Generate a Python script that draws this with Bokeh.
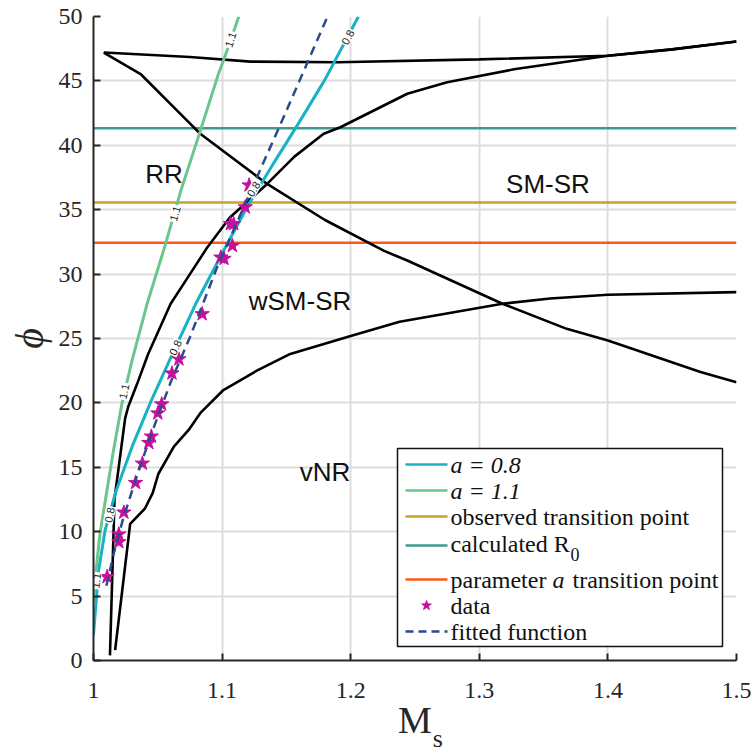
from bokeh.plotting import figure
from bokeh.models import Range1d, FixedTicker, LinearAxis, CustomJSTickFormatter
from bokeh.core.properties import value
from bokeh.embed import file_html
from bokeh.resources import INLINE

# ---------------- data ----------------
x_ticks = [1.0, 1.1, 1.2, 1.3, 1.4, 1.5]
x_tick_labels = ["1", "1.1", "1.2", "1.3", "1.4", "1.5"]
y_ticks = [0, 5, 10, 15, 20, 25, 30, 35, 40, 45, 50]
y_tick_labels = ["0", "5", "10", "15", "20", "25", "30", "35", "40", "45", "50"]

# black regime boundaries
top_ms = [1.008, 1.075, 1.122, 1.19, 1.30, 1.40, 1.45, 1.50]
top_phi = [47.2, 46.85, 46.5, 46.45, 46.67, 46.95, 47.45, 48.06]

desc_ms = [1.008, 1.037, 1.073, 1.083, 1.135, 1.18, 1.226, 1.244, 1.318, 1.368, 1.40, 1.472, 1.50]
desc_phi = [47.2, 45.5, 41.9, 40.9, 37.0, 34.2, 31.8, 31.06, 27.7, 25.75, 24.85, 22.4, 21.6]

rise_ms = [1.0128, 1.0156, 1.0163, 1.0246, 1.027, 1.034, 1.0425, 1.06, 1.075, 1.088, 1.106, 1.135,
           1.156, 1.179, 1.192, 1.244, 1.275, 1.327, 1.40, 1.45, 1.50]
rise_phi = [0.4, 10.0, 12.5, 18.8, 19.7, 21.5, 23.8, 27.7, 30.0, 32.0, 34.4, 37.0,
            39.1, 40.9, 41.4, 44.0, 44.9, 45.9, 46.95, 47.45, 48.06]

low_ms = [1.0168, 1.0285, 1.040, 1.046, 1.0505, 1.0625, 1.074, 1.083, 1.101, 1.127, 1.153,
          1.20, 1.238, 1.318, 1.355, 1.40, 1.50]
low_phi = [0.8, 10.6, 11.8, 13.0, 14.5, 16.6, 17.9, 19.2, 21.0, 22.5, 23.8,
           25.2, 26.3, 27.7, 28.1, 28.4, 28.6]

# a = 0.8 contour
a08_ms = [1.000, 1.004, 1.009, 1.017, 1.030, 1.045, 1.060, 1.080, 1.100, 1.120, 1.140, 1.160, 1.180, 1.206]
a08_phi = [2.0, 7.0, 10.1, 13.0, 16.6, 20.2, 23.5, 27.8, 31.6, 35.3, 38.6, 41.8, 45.1, 50.0]

# a = 1.1 contour
a11_ms = [1.000, 1.002, 1.005, 1.009, 1.015, 1.022, 1.030, 1.042, 1.055, 1.068, 1.083, 1.097, 1.104, 1.113]
a11_phi = [4.6, 7.0, 9.8, 12.3, 16.0, 19.9, 23.3, 27.8, 32.0, 36.5, 41.1, 45.5, 47.4, 50.0]

# horizontal reference levels
observed_phi = 35.55
r0_phi = 41.33
param_a_phi = 32.43

# measured data
data_ms = [1.0106, 1.0197, 1.0197, 1.0236, 1.0327, 1.038, 1.043, 1.045, 1.050, 1.053,
           1.061, 1.0664, 1.0845, 1.099, 1.1015, 1.108, 1.1065, 1.109, 1.118, 1.121]
data_phi = [6.5, 9.2, 9.8, 11.5, 13.8, 15.3, 16.9, 17.4, 19.2, 19.9,
            22.3, 23.4, 26.9, 31.3, 31.2, 32.2, 33.9, 33.9, 35.2, 36.9]

# fitted function
fit_ms = [1.010, 1.016, 1.023, 1.033, 1.045, 1.060, 1.075, 1.096, 1.127, 1.147, 1.182]
fit_phi = [5.8, 8.4, 11.0, 14.1, 17.6, 21.6, 25.1, 30.5, 37.5, 42.0, 50.0]

# contour labels (text, M_s, phi, angle in degrees)
c_lab_text = ["1.1", "1.1", "1.1", "1.1", "0.8", "0.8", "0.8", "0.8"]
c_lab_ms = [1.1065, 1.0633, 1.0237, 1.0022, 1.1978, 1.1245, 1.0637, 1.0125]
c_lab_phi = [48.2, 34.7, 20.9, 6.2, 48.4, 36.6, 24.3, 11.3]
c_lab_ang = [72, 74, 77, 83, 62, 59, 65, 78]

regions = ["RR", "SM-SR", "wSM-SR", "vNR"]
region_ms = [1.0548, 1.3534, 1.1606, 1.180]
region_phi = [37.8, 36.96, 27.95, 14.67]

# colours
C_A08 = "#17B3C5"
C_A11 = "#6CC58D"
C_OBS = "#C9A227"
C_R0 = "#3C9A8E"
C_PAR = "#FF5A14"
C_DATA = "#C4109E"
C_FIT = "#2D4A8A"

# ---------------- figure ----------------
p = figure(width=751, height=755, x_range=Range1d(1, 1.5), y_range=Range1d(0, 50),
           output_backend="svg", toolbar_location=None,
           min_border_left=93, min_border_right=15, min_border_top=16, min_border_bottom=95)
p.outline_line_color = None
p.background_fill_color = "white"
p.border_fill_color = "white"

# pixel helper ranges (frame pixels) for the legend
p.extra_x_ranges = {"px": Range1d(93, 736)}
p.extra_y_ranges = {"px": Range1d(660, 16)}

fmt_code = """
const i = tvals.findIndex(t => Math.abs(t - tick) < 1e-6);
return i >= 0 ? tlabels[i] : String(tick);
"""

for axs in (p.xaxis, p.yaxis):
    axs.axis_line_color = "#262626"
    axs.axis_line_width = 2
    axs.major_tick_line_color = "#262626"
    axs.major_tick_line_width = 2
    axs.major_tick_in = 7
    axs.major_tick_out = 0
    axs.minor_tick_line_color = None
    axs.major_label_text_font = "Liberation Serif"
    axs.major_label_text_font_size = "24px"
    axs.major_label_text_font_style = "normal"
    axs.major_label_text_color = "#262626"
    axs.axis_label_text_font = "Liberation Serif"
    axs.axis_label_text_color = "#262626"

p.xaxis.ticker = FixedTicker(ticks=x_ticks)
p.yaxis.ticker = FixedTicker(ticks=y_ticks)
p.xaxis.formatter = CustomJSTickFormatter(args=dict(tvals=x_ticks, tlabels=x_tick_labels), code=fmt_code)
p.yaxis.formatter = CustomJSTickFormatter(args=dict(tvals=y_ticks, tlabels=y_tick_labels), code=fmt_code)
p.xaxis.major_label_standoff = 22
p.yaxis.major_label_standoff = 11

p.xaxis.axis_label = "M"
p.xaxis.axis_label_text_font_size = "38px"
p.xaxis.axis_label_text_font_style = "normal"
p.xaxis.axis_label_standoff = -2
p.yaxis.axis_label = "ϕ"
p.yaxis.axis_label_text_font_size = "40px"
p.yaxis.axis_label_text_font_style = "italic"
p.yaxis.axis_label_standoff = 4

# subscript "s" of the x title on a bare second axis
sub_axis = LinearAxis(ticker=FixedTicker(ticks=[]), axis_line_color=None,
                      major_tick_line_color=None, minor_tick_line_color=None,
                      axis_label="\u00a0" * 7 + "s", axis_label_text_font="Liberation Serif",
                      axis_label_text_font_size="26px", axis_label_text_font_style="normal",
                      axis_label_text_color="#262626", axis_label_standoff=-20)
p.add_layout(sub_axis, "below")

p.xgrid.grid_line_color = "#DDDDDD"
p.ygrid.grid_line_color = "#DDDDDD"
p.xgrid.grid_line_width = 2
p.ygrid.grid_line_width = 2

# horizontal reference lines
p.line(x=[1.0, 1.5], y=[r0_phi, r0_phi], line_color=C_R0, line_width=2.5)
p.line(x=[1.0, 1.5], y=[observed_phi, observed_phi], line_color=C_OBS, line_width=2.5)
p.line(x=[1.0, 1.5], y=[param_a_phi, param_a_phi], line_color=C_PAR, line_width=2.5)

# regime boundaries
for xs, ys in ((top_ms, top_phi), (desc_ms, desc_phi), (rise_ms, rise_phi), (low_ms, low_phi)):
    p.line(x=xs, y=ys, line_color="black", line_width=2.6)

# contours
p.line(x=a08_ms, y=a08_phi, line_color=C_A08, line_width=3)
p.line(x=a11_ms, y=a11_phi, line_color=C_A11, line_width=3)

# data
p.scatter(x=data_ms, y=data_phi, marker="star", size=15, fill_color=C_DATA, line_color=C_DATA)

# fitted
p.line(x=fit_ms, y=fit_phi, line_color=C_FIT, line_width=2.5, line_dash="9 6")

# contour labels
p.text(x=c_lab_ms, y=c_lab_phi, text=c_lab_text, angle=c_lab_ang, angle_units="deg",
       text_font=value("Liberation Sans"), text_font_size="11px", text_color="#222222",
       text_align="center", text_baseline="middle",
       background_fill_color="white", padding=1)

# region labels
p.text(x=region_ms, y=region_phi, text=regions, text_font=value("Liberation Sans"),
       text_font_size="26px", text_color="#111111", text_align="center", text_baseline="middle")

# ---------------- legend (drawn in frame pixel coordinates) ----------------
PX = dict(x_range_name="px", y_range_name="px")
p.quad(left=[397], right=[722], top=[448], bottom=[646], fill_color="white",
       line_color="#111111", line_width=1.5, **PX)

rows_y = [464, 490, 516, 545, 579, 605, 631]
sample_cols = [C_A08, C_A11, C_OBS, C_R0, C_PAR]
for yy, col in zip(rows_y[:5], sample_cols):
    p.line(x=[405, 447], y=[yy, yy], line_color=col, line_width=2.5, **PX)
p.scatter(x=[426], y=[rows_y[5]], marker="star", size=10, fill_color=C_DATA, line_color=C_DATA, **PX)
p.line(x=[405, 447], y=[rows_y[6], rows_y[6]], line_color=C_FIT, line_width=2.5, line_dash="8 5", **PX)

LF = value("Liberation Serif")
common = dict(text_font=LF, text_font_size="24px", text_color="#111111",
              text_align="left", text_baseline="middle", **PX)
p.text(x=[450, 450], y=rows_y[0:2], text=["a = 0.8", "a = 1.1"], text_font_style="italic", **common)
p.text(x=[450], y=[rows_y[2]], text=["observed transition point"], **common)
p.text(x=[450], y=[rows_y[3] - 2], text=["calculated R"], **common)
p.text(x=[570], y=[rows_y[3] + 9], text=["0"], text_font=LF, text_font_size="18px", text_color="#111111",
       text_align="left", text_baseline="middle", **PX)
p.text(x=[450], y=[rows_y[4]], text=["parameter"], **common)
p.text(x=[552], y=[rows_y[4]], text=["a"], text_font_style="italic", **common)
p.text(x=[572], y=[rows_y[4]], text=["transition point"], **common)
p.text(x=[450], y=[rows_y[5]], text=["data"], **common)
p.text(x=[450], y=[rows_y[6]], text=["fitted function"], **common)

open("out.html", "w").write(file_html(p, INLINE))
